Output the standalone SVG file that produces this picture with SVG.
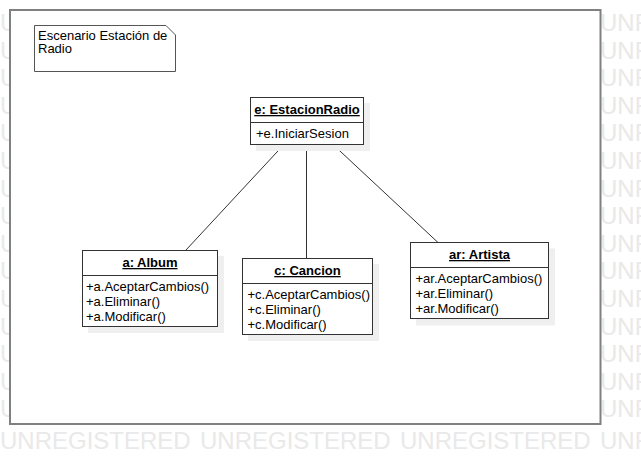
<svg xmlns="http://www.w3.org/2000/svg" width="641" height="465" viewBox="0 0 641 465">
<defs>
<style>
.wm{font-family:"Liberation Sans",Arial,sans-serif;font-size:24px;fill:#e9e9e9}
.t{font-family:"Liberation Sans",Arial,sans-serif;font-size:13px;fill:#000}
.title{font-weight:bold;text-anchor:middle;text-decoration:underline}
.box{fill:#fff;stroke:#333;stroke-width:1}
.shadow{fill:#efefef}
.div{stroke:#333;stroke-width:1}
.conn{stroke:#333;stroke-width:1;fill:none}
</style>
</defs>
<rect width="641" height="465" fill="#fff"/>
<g id="watermark" class="wm">
<text x="0" y="31">U</text><text x="600" y="31">UNR</text>
<text x="0" y="58.6">U</text><text x="600" y="58.6">UNR</text>
<text x="0" y="86.2">U</text><text x="600" y="86.2">UNR</text>
<text x="0" y="113.8">U</text><text x="600" y="113.8">UNR</text>
<text x="0" y="141.4">U</text><text x="600" y="141.4">UNR</text>
<text x="0" y="169">U</text><text x="600" y="169">UNR</text>
<text x="0" y="196.6">U</text><text x="600" y="196.6">UNR</text>
<text x="0" y="224.2">U</text><text x="600" y="224.2">UNR</text>
<text x="0" y="251.8">U</text><text x="600" y="251.8">UNR</text>
<text x="0" y="279.4">U</text><text x="600" y="279.4">UNR</text>
<text x="0" y="307">U</text><text x="600" y="307">UNR</text>
<text x="0" y="334.6">U</text><text x="600" y="334.6">UNR</text>
<text x="0" y="362.2">U</text><text x="600" y="362.2">UNR</text>
<text x="0" y="389.8">U</text><text x="600" y="389.8">UNR</text>
<text x="0" y="417.4">U</text><text x="600" y="417.4">UNR</text>
<text y="449"><tspan x="0">UNREGISTERED</tspan><tspan x="200">UNREGISTERED</tspan><tspan x="400">UNREGISTERED</tspan><tspan x="600">UNR</tspan></text>
</g>
<g id="frame">
<rect x="10" y="10" width="590.5" height="414" fill="#fff" stroke="#808080" stroke-width="2"/>
</g>
<g id="note">
<path d="M34.5,25.5 H166 L175.5,35 V71.5 H34.5 Z" fill="#fff" stroke="#555" stroke-width="1"/>
<text class="t" x="38" y="40">Escenario Estación de</text>
<text class="t" x="38" y="53">Radio</text>
</g>
<g id="connectors">
<line class="conn" x1="283.5" y1="145" x2="186" y2="250"/>
<line class="conn" x1="306.5" y1="145" x2="306.5" y2="258"/>
<line class="conn" x1="333.5" y1="145" x2="438" y2="242.5"/>
</g>
<g id="estacionRadio">
<rect class="shadow" x="256" y="103" width="114" height="48"/>
<rect class="box" x="250.5" y="97.5" width="113" height="47"/>
<line class="div" x1="250.5" y1="122.5" x2="363.5" y2="122.5"/>
<text class="t title" x="307" y="114">e: EstacionRadio</text>
<text class="t" x="256" y="137.5">+e.IniciarSesion</text>
</g>
<g id="album">
<rect class="shadow" x="88" y="256" width="136" height="77"/>
<rect class="box" x="82.5" y="250.5" width="135" height="76"/>
<line class="div" x1="82.5" y1="275.5" x2="217.5" y2="275.5"/>
<text class="t title" x="150" y="267">a: Album</text>
<text class="t" x="86" y="291">+a.AceptarCambios()</text>
<text class="t" x="86" y="306">+a.Eliminar()</text>
<text class="t" x="86" y="321">+a.Modificar()</text>
</g>
<g id="cancion">
<rect class="shadow" x="248" y="264" width="131" height="77"/>
<rect class="box" x="242.5" y="258.5" width="130" height="76"/>
<line class="div" x1="242.5" y1="283.5" x2="372.5" y2="283.5"/>
<text class="t title" x="307.5" y="275">c: Cancion</text>
<text class="t" x="247.5" y="299">+c.AceptarCambios()</text>
<text class="t" x="247.5" y="314">+c.Eliminar()</text>
<text class="t" x="247.5" y="329">+c.Modificar()</text>
</g>
<g id="artista">
<rect class="shadow" x="416" y="248.5" width="139" height="77"/>
<rect class="box" x="410.5" y="242.5" width="138" height="76"/>
<line class="div" x1="410.5" y1="267.5" x2="548.5" y2="267.5"/>
<text class="t title" x="479.5" y="259">ar: Artista</text>
<text class="t" x="415.5" y="283">+ar.AceptarCambios()</text>
<text class="t" x="415.5" y="298">+ar.Eliminar()</text>
<text class="t" x="415.5" y="313">+ar.Modificar()</text>
</g>
</svg>
